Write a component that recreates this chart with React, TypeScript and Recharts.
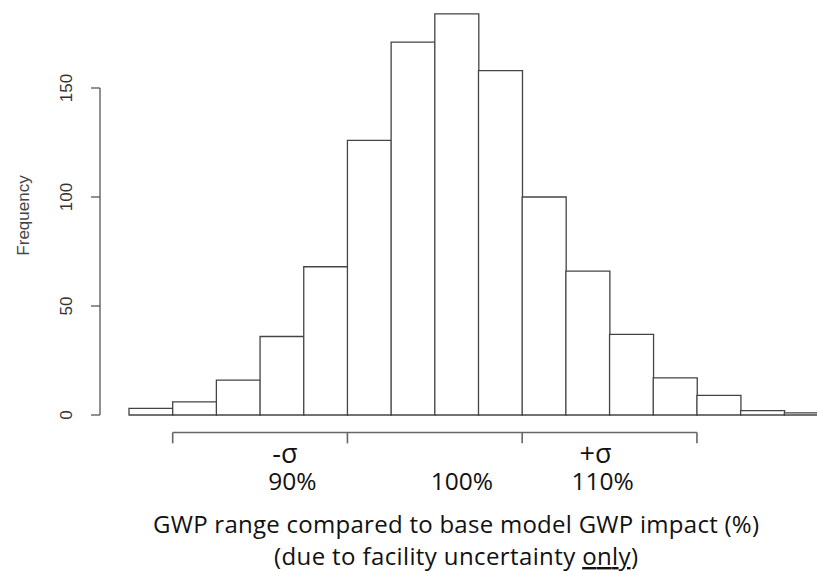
import React from 'react';
import { BarChart, Bar, XAxis, YAxis, ReferenceLine } from 'recharts';

// Histogram bins (bin index, left edge = i) and their frequencies
const binCenters = [0.5, 1.5, 2.5, 3.5, 4.5, 5.5, 6.5, 7.5, 8.5, 9.5, 10.5, 11.5, 12.5, 13.5, 14.5, 15.5];
const frequencies = [3, 6, 16, 36, 68, 126, 171, 184, 158, 100, 66, 37, 17, 9, 2, 1];
const yTicks = [0, 50, 100, 150];

// Sigma bracket below the histogram (bin-edge units)
const bracketEdges = [1, 5, 9, 13];
const bracketLevel = -8;
const bracketTickEnd = -13;

// Annotation labels (anchored in bin units)
const sigmaLabels = ['-σ', '+σ'];
const sigmaLabelPos = [3.57, 10.68];
const pctLabels = ['90%', '100%', '110%'];
const pctLabelPos = [3.74, 7.62, 10.84];

const titleLine1 = 'GWP range compared to base model GWP impact (%)';
const titleLine2a = '(due to facility uncertainty ';
const titleLine2b = 'only';
const titleLine2c = ')';

const data = binCenters.map((x, i) => ({ x, freq: frequencies[i] }));

const TEXT_FONT = '"Open Sans", sans-serif';
const R_FONT = '"Liberation Sans", Arial, sans-serif';

const YTick = (props: any) => {
  const { x, y, payload } = props;
  const tx = x - 23;
  return (
    <text
      x={tx}
      y={y}
      dy="0.35em"
      transform={`rotate(-90 ${tx} ${y})`}
      textAnchor="middle"
      fontFamily={R_FONT}
      fontSize={17}
      fill="#333"
    >
      {payload.value}
    </text>
  );
};

const AnnTick = (props: any) => {
  const { x, y, payload } = props;
  const v = payload.value;
  const si = sigmaLabelPos.indexOf(v);
  if (si >= 0) {
    return (
      <text x={x} y={y + 48} textAnchor="middle" fontFamily={TEXT_FONT} fontSize={27} fill="#111">
        {sigmaLabels[si]}
      </text>
    );
  }
  const pi = pctLabelPos.indexOf(v);
  if (pi >= 0) {
    return (
      <text x={x} y={y + 75} textAnchor="middle" fontFamily={TEXT_FONT} fontSize={24.5} fill="#111">
        {pctLabels[pi]}
      </text>
    );
  }
  return null;
};

const TitleLabel = (props: any) => {
  const vb = props.viewBox || {};
  const cx = vb.x + 356;
  const y0 = vb.y;
  return (
    <g>
      <text
        x={cx}
        y={y0 + 118}
        textAnchor="middle"
        fontFamily={TEXT_FONT}
        fontSize={24}
        fill="#111"
        textLength={606}
        lengthAdjust="spacing"
      >
        {titleLine1}
      </text>
      <text
        x={cx}
        y={y0 + 150}
        textAnchor="middle"
        fontFamily={TEXT_FONT}
        fontSize={24}
        fill="#111"
        textLength={364}
        lengthAdjust="spacing"
      >
        {titleLine2a}
        <tspan style={{ textDecoration: 'underline' }}>{titleLine2b}</tspan>
        {titleLine2c}
      </text>
    </g>
  );
};

const FreqLabel = (props: any) => {
  const vb = props.viewBox || {};
  const tx = vb.x - 17;
  const ty = vb.y + vb.height / 2 - 36;
  return (
    <text
      x={tx}
      y={ty}
      dy="0.35em"
      transform={`rotate(-90 ${tx} ${ty})`}
      textAnchor="middle"
      fontFamily={R_FONT}
      fontSize={17}
      fill="#444"
    >
      Frequency
    </text>
  );
};

export default function App() {
  return (
    <div
      style={{
        position: 'absolute',
        left: 0,
        top: 0,
        width: 817,
        height: 571,
        overflow: 'hidden',
        background: '#fff',
      }}
    >
      <style>{'.recharts-bar, .recharts-bar * { clip-path: none !important; }'}</style>
      <BarChart
        width={840}
        height={571}
        data={data}
        margin={{ top: 88, right: 12, bottom: 0, left: 40 }}
        barCategoryGap={0}
        barGap={0}
      >
        <XAxis
          xAxisId="bins"
          dataKey="x"
          type="number"
          domain={[0, 16]}
          padding={{ left: 29, right: 0 }}
          ticks={[...sigmaLabelPos, ...pctLabelPos]}
          interval={0}
          axisLine={false}
          tickLine={false}
          tickSize={0}
          tickMargin={0}
          tick={<AnnTick />}
          height={156}
          label={<TitleLabel />}
        />
        <YAxis
          domain={[0, 150]}
          allowDataOverflow
          ticks={yTicks}
          width={60}
          tickSize={9}
          axisLine={{ stroke: '#555', strokeWidth: 1.3 }}
          tickLine={{ stroke: '#555', strokeWidth: 1.3 }}
          tick={<YTick />}
          label={<FreqLabel />}
        />
        <Bar
          xAxisId="bins"
          dataKey="freq"
          fill="#fff"
          stroke="#444"
          strokeWidth={1.3}
          isAnimationActive={false}
        />
        <ReferenceLine
          xAxisId="bins"
          segment={[
            { x: bracketEdges[0], y: bracketLevel },
            { x: bracketEdges[bracketEdges.length - 1], y: bracketLevel },
          ]}
          stroke="#666"
          strokeWidth={1.6}
          ifOverflow="visible"
        />
        {bracketEdges.map((e) => (
          <ReferenceLine
            key={e}
            xAxisId="bins"
            segment={[
              { x: e, y: bracketLevel },
              { x: e, y: bracketTickEnd },
            ]}
            stroke="#666"
            strokeWidth={1.6}
            ifOverflow="visible"
          />
        ))}
      </BarChart>
    </div>
  );
}
